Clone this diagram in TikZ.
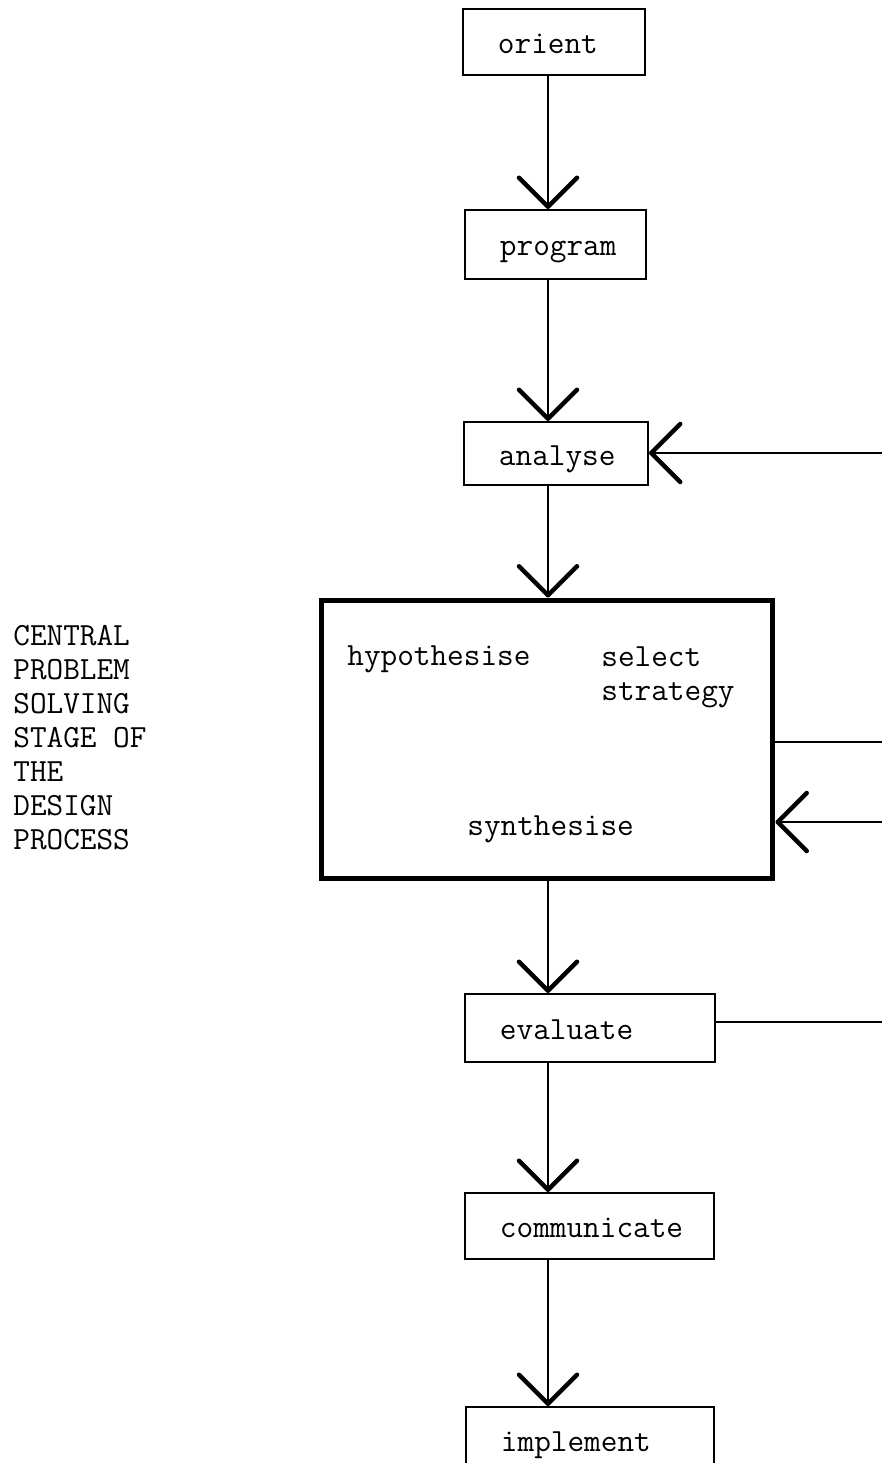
\documentclass[tikz,border=0pt]{standalone}
\usepackage{tikz}
\usetikzlibrary{arrows.meta}

\newcommand{\stagefont}{\ttfamily\fontsize{18.4}{19.3}\selectfont}

\tikzset{
	stage/.style={draw,line width=0.04cm,anchor=west,inner xsep=0.7cm,inner ysep=0pt,align=left,text height=0.48cm,text depth=0.02cm,font=\stagefont},
	note/.style={inner sep=0pt,align=left,font=\stagefont},
	flow/.style={line width=0.03cm,-{Straight Barb[length=0.58cm,width=1.16cm,line width=0.09cm,round]}},
	plain/.style={line width=0.025cm},
}

\begin{document}
\begin{tikzpicture}[x=0.02cm,y=-0.02cm]
	\useasboundingbox (0,0) rectangle (882,1463);
	
	%stages
	\node[stage,text width=2.24cm,minimum height=1.34cm] (orient) at (462,42) {orient};
	\node[stage,text width=2.22cm,minimum height=1.38cm] (program) at (464,244.5) {program};
	\node[stage,text width=2.28cm,minimum height=1.26cm] (analyse) at (463,453.5) {analyse};
	\node[draw,line width=0.1cm,minimum width=9.04cm,minimum height=5.58cm] (core) at (547,739.5) {};
	\node[stage,text width=3.6cm,minimum height=1.36cm] (evaluate) at (464,1028) {evaluate};
	\node[stage,text width=3.58cm,minimum height=1.32cm] (communicate) at (464,1226) {communicate};
	\node[stage,text width=3.56cm,minimum height=1.32cm] (implement) at (465,1440) {implement};
	
	%inside the central stage
	\node[note,anchor=base west] (hypothesise) at (347,665) {hypothesise};
	\node[note,anchor=north west] (strategy) at (601,646) {select\\strategy};
	\node[note,anchor=base west] (synthesise) at (467,835) {synthesise};
	
	%side note
	\node[note,anchor=north west] (caption) at (13,625) {CENTRAL\\PROBLEM\\SOLVING\\STAGE OF\\THE\\DESIGN\\PROCESS};
	
	%main line
	\coordinate (spine) at (548,0);
	\draw[flow] (orient.south -| spine) -- (program.north -| spine);
	\draw[flow] (program.south -| spine) -- (analyse.north -| spine);
	\draw[flow] (analyse.south -| spine) -- (core.north -| spine);
	\draw[flow] (core.south -| spine) -- (evaluate.north -| spine);
	\draw[flow] (evaluate.south -| spine) -- (communicate.north -| spine);
	\draw[flow] (communicate.south -| spine) -- (implement.north -| spine);
	
	%loops to the right
	\coordinate (backA) at (882,453);
	\coordinate (outB) at (882,742);
	\coordinate (backB) at (882,822);
	\coordinate (outC) at (882,1022);
	\draw[flow] (backA) -- (analyse.east |- backA);
	\draw[plain] (core.east |- outB) -- (outB);
	\draw[flow] (backB) -- (core.east |- backB);
	\draw[plain] (evaluate.east |- outC) -- (outC);
\end{tikzpicture}
\end{document}
